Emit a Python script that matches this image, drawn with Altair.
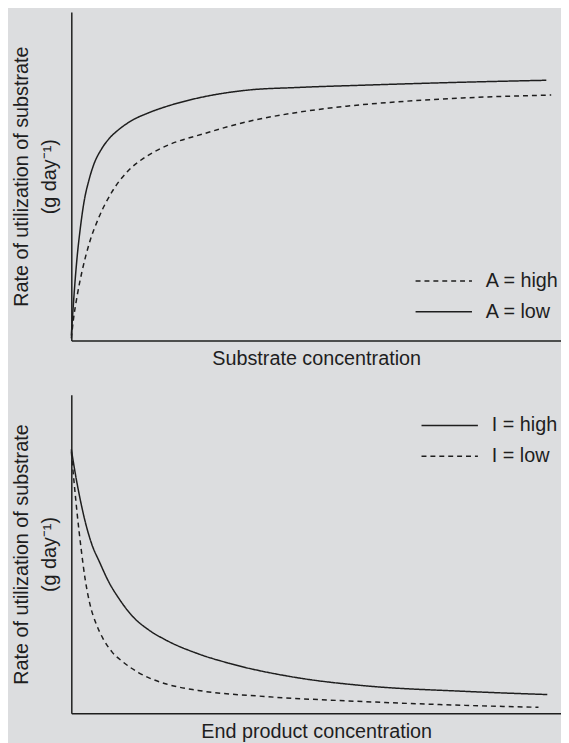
import altair as alt
import pandas as pd

# ---- Panel 1: rate vs substrate concentration ----
sub_low_x = [0, 0.4, 0.8, 1.2, 1.8, 2.6, 3.6, 4.6, 6.1, 7.7, 9.7, 12.3, 15.8, 19.8, 25.9, 36.0, 46.1, 59.6, 79.8, 97.0]
sub_low_y = [1.5, 10.5, 18.7, 25.6, 33.7, 42.2, 48.8, 53.6, 58.1, 61.4, 64.2, 66.9, 69.3, 71.4, 73.8, 76.2, 77.0, 77.7, 78.6, 79.2]
sub_high_x = [0, 0.4, 1.2, 2.2, 3.6, 5.7, 8.3, 11.7, 14.7, 17.8, 27.9, 36.0, 46.1, 56.2, 66.3, 79.8, 98.0]
sub_high_y = [0.6, 6.0, 13.6, 21.1, 29.2, 37.7, 45.2, 51.8, 55.4, 58.1, 63.3, 66.6, 69.4, 71.3, 72.6, 73.8, 74.7]

# ---- Panel 2: rate vs end product concentration ----
end_high_x = [0, 0.8, 1.6, 2.8, 4.2, 5.7, 7.7, 9.7, 12.3, 15.8, 19.2, 25.9, 32.5, 46.1, 59.6, 80.4, 97.2]
end_high_y = [82.9, 75.4, 68.8, 60.4, 53.0, 47.7, 41.1, 36.1, 30.8, 26.2, 23.1, 18.7, 15.6, 11.2, 8.7, 6.9, 5.9]
end_low_x = [0, 0.6, 1.2, 2.0, 2.8, 3.8, 5.1, 6.5, 8.3, 10.5, 13.7, 19.2, 25.9, 39.4, 59.6, 80.4, 95.4]
end_low_y = [82.2, 72.0, 62.6, 51.7, 42.4, 34.3, 28.0, 23.4, 19.3, 16.2, 12.8, 9.3, 7.2, 5.3, 3.7, 2.5, 1.9]

top_labels = ["A = high", "A = low"]
bottom_labels = ["I = high", "I = low"]
y_title = ["Rate of utilization of substrate", "(g day\u207b\u00b9)"]

INK = "#1e1e1e"
FONT = "Liberation Sans"
DASH = [5, 4]
SOLID = [1, 0]


def frame(xs, ys, name):
    return pd.DataFrame({"x": xs, "y": ys, "series": name})


df_top = pd.concat([frame(sub_high_x, sub_high_y, top_labels[0]),
                    frame(sub_low_x, sub_low_y, top_labels[1])])
df_bot = pd.concat([frame(end_high_x, end_high_y, bottom_labels[0]),
                    frame(end_low_x, end_low_y, bottom_labels[1])])


def panel(df, domain, dash_range, xtitle, lx, ly, h):
    return alt.Chart(df).mark_line(interpolate="monotone", color=INK, strokeWidth=1.5).encode(
        x=alt.X("x:Q", scale=alt.Scale(domain=[0, 100], nice=False, zero=False),
                axis=alt.Axis(title=xtitle, titlePadding=8)),
        y=alt.Y("y:Q", scale=alt.Scale(domain=[0, 100], nice=False),
                axis=alt.Axis(title=y_title, titlePadding=12, titleLineHeight=28)),
        strokeDash=alt.StrokeDash(
            "series:N",
            scale=alt.Scale(domain=domain, range=dash_range),
            legend=alt.Legend(
                title=None, orient="none", legendX=lx, legendY=ly,
                symbolType="stroke", symbolSize=3249, symbolStrokeWidth=1.5,
                symbolStrokeColor=INK, labelFont=FONT, labelFontSize=20,
                labelColor=INK, labelOffset=13, clipHeight=24, rowPadding=7,
                padding=0,
            ),
        ),
    ).properties(width=495, height=h)


top = panel(df_top, top_labels, [DASH, SOLID], "Substrate concentration", 347, 260, 332)
bottom = panel(df_bot, bottom_labels, [SOLID, DASH], "End product concentration", 353, 19, 322)

chart = alt.vconcat(top, bottom, spacing=27).resolve_scale(
    strokeDash="independent"
).resolve_legend(strokeDash="independent").properties(
    padding={"left": 4, "top": 0, "right": 0, "bottom": 0},
    background="#dcdddf",
).configure_view(stroke=None).configure_axis(
    grid=False, ticks=False, labels=False, domain=True,
    domainColor=INK, domainWidth=1.5,
    titleFont=FONT, titleFontSize=20, titleFontWeight="normal", titleColor=INK,
)

chart.save("out.html", embed_options={"renderer": "svg", "actions": False})
